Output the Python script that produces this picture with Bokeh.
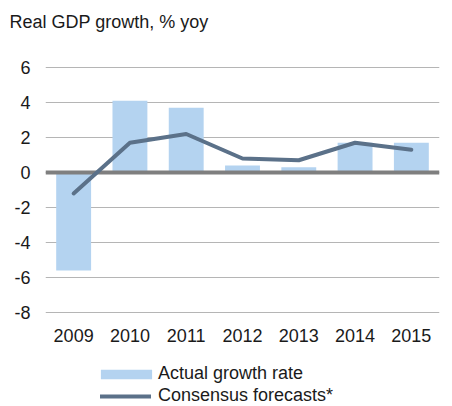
from bokeh.plotting import figure
from bokeh.models import (Legend, LegendItem, ColumnDataSource, FactorRange,
                          Range1d, FixedTicker)
from bokeh.embed import file_html
from bokeh.resources import INLINE

years = ["2009", "2010", "2011", "2012", "2013", "2014", "2015"]
actual = [-5.6, 4.1, 3.7, 0.4, 0.3, 1.7, 1.7]
consensus = [-1.2, 1.7, 2.2, 0.8, 0.7, 1.7, 1.3]
y_ticks = [-8, -6, -4, -2, 0, 2, 4, 6]
y_tick_labels = {t: str(t) for t in y_ticks}
zero_line = [0]

FONT = "Liberation Sans"
TXT = "#1a1a1a"

# layout geometry (pixels)
W, H = 452, 406
TOP_GRID, BOTTOM_GRID = 67, 312      # pixel rows of the top and bottom gridlines
FRAME_TOP = 40
px_per_unit = (BOTTOM_GRID - TOP_GRID) / (y_ticks[-1] - y_ticks[0])
y_start = y_ticks[0] - (H - BOTTOM_GRID) / px_per_unit
y_end = y_ticks[-1] + (TOP_GRID - FRAME_TOP) / px_per_unit

src = ColumnDataSource(dict(year=years, actual=actual, consensus=consensus))

p = figure(width=W, height=H, x_range=FactorRange(*years, range_padding=0),
           y_range=Range1d(y_start, y_end), output_backend="svg",
           toolbar_location=None, min_border_left=45, min_border_right=13,
           min_border_top=FRAME_TOP, min_border_bottom=0)
p.outline_line_color = None
p.background_fill_color = "white"
p.border_fill_color = "white"

bars = p.vbar(x="year", top="actual", bottom=0, width=0.62, source=src,
              fill_color="#b4d3f0", line_color=None)
p.hspan(y=zero_line, line_color="#7f7f7f", line_width=4)
line = p.line(x="year", y="consensus", source=src, line_color="#5b7189",
              line_width=4, line_join="round", line_cap="round")

# title
p.title.text = "Real GDP growth, % yoy"
p.title.align = "left"
p.title.offset = -36
p.title.standoff = 18
p.title.text_font = FONT
p.title.text_font_size = "18px"
p.title.text_font_style = "normal"
p.title.text_color = TXT

# axes
p.yaxis.ticker = FixedTicker(ticks=y_ticks)
p.yaxis.major_label_overrides = y_tick_labels
p.ygrid.ticker = FixedTicker(ticks=y_ticks)
p.xgrid.grid_line_color = None
p.ygrid.grid_line_color = "#b5b5b5"
p.ygrid.grid_line_width = 1
for ax in (p.xaxis[0], p.yaxis[0]):
    ax.axis_line_color = None
    ax.major_tick_line_color = None
    ax.minor_tick_line_color = None
    ax.major_tick_out = 0
    ax.major_tick_in = 0
    ax.major_label_text_font = FONT
    ax.major_label_text_font_size = "18px"
    ax.major_label_text_color = TXT
p.yaxis.major_label_standoff = 15
p.xaxis.major_label_standoff = 16
p.xaxis.fixed_location = y_ticks[0]

# legends
def make_legend(item, loc, gw, gh, standoff):
    return Legend(items=[item], location=loc, orientation="vertical",
                  glyph_width=gw, glyph_height=gh, padding=0, margin=0, spacing=0,
                  label_standoff=standoff, label_text_font=FONT,
                  label_text_font_size="18px", label_text_color=TXT,
                  border_line_color=None, background_fill_alpha=0)

p.add_layout(make_legend(LegendItem(label="Actual growth rate", renderers=[bars]),
                         (49, 22), 64, 12, 0))
p.add_layout(make_legend(LegendItem(label="Consensus forecasts*", renderers=[line]),
                         (55, 0), 51, 12, 7))

open("out.html", "w").write(file_html(p, INLINE))
